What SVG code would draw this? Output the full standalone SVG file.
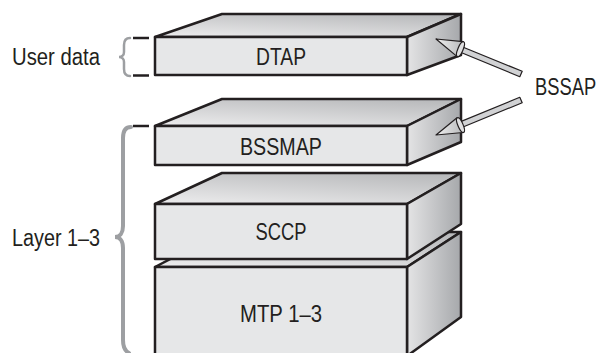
<svg xmlns="http://www.w3.org/2000/svg" width="603" height="353" viewBox="0 0 603 353">
<defs>
<linearGradient id="gTop" x1="0.2" y1="1" x2="0.8" y2="0">
<stop offset="0" stop-color="#e9e9ea"/>
<stop offset="1" stop-color="#b9babc"/>
</linearGradient>
<linearGradient id="gSide" x1="0" y1="0" x2="1" y2="0">
<stop offset="0" stop-color="#e4e4e5"/>
<stop offset="1" stop-color="#a6a8ab"/>
</linearGradient>
<linearGradient id="gCone" x1="0" y1="0" x2="1" y2="0">
<stop offset="0" stop-color="#f0f0f0"/>
<stop offset="1" stop-color="#b8b9bb"/>
</linearGradient>
</defs>
<style>
.edge{stroke:#231f20;stroke-width:2.5;stroke-linejoin:round}
.front{fill:#e6e7e8}
.top{fill:url(#gTop)}
.side{fill:url(#gSide)}
.lbl{font-family:"Liberation Sans",Arial,sans-serif;font-size:23.5px;fill:#231f20}
.mid{text-anchor:middle}
.brace{fill:none;stroke:#9d9fa2;stroke-linecap:round}
.dash{stroke:#231f20;stroke-width:2.5}
.shaft{fill:#d1d2d4;stroke:#231f20;stroke-width:1.2;stroke-linejoin:round}
.cone{fill:url(#gCone);stroke:#231f20;stroke-width:1.2;stroke-linejoin:round}
.ring{fill:#e0e0e1;stroke:#231f20;stroke-width:1.2}
</style>

<g id="mtp">
<polygon class="top edge" points="155,267 222,232 461,232 407,267"/>
<polygon class="side edge" points="407,267 461,232 461,317 407,356"/>
<rect class="front edge" x="155" y="267" width="252" height="92"/>
<text class="lbl mid" x="281" y="322" textLength="82" lengthAdjust="spacingAndGlyphs">MTP 1–3</text>
</g>

<g id="sccp">
<polygon class="top edge" points="155,204 222,173 461,173 407,204"/>
<polygon class="side edge" points="407,204 461,173 461,224 407,259"/>
<rect class="front edge" x="155" y="204" width="252" height="55"/>
<text class="lbl mid" x="281" y="240" textLength="51" lengthAdjust="spacingAndGlyphs">SCCP</text>
</g>

<g id="bssmap">
<polygon class="top edge" points="155,126 222,99 461,99 407,126"/>
<polygon class="side edge" points="407,126 461,99 461,142 407,165"/>
<rect class="front edge" x="155" y="126" width="252" height="39"/>
<text class="lbl mid" x="281" y="155" textLength="82" lengthAdjust="spacingAndGlyphs">BSSMAP</text>
</g>

<g id="dtap">
<polygon class="top edge" points="155,37 222,14 461,14 407,37"/>
<polygon class="side edge" points="407,37 461,14 461,55 407,75"/>
<rect class="front edge" x="155" y="37" width="252" height="38"/>
<text class="lbl mid" x="281" y="65" textLength="50" lengthAdjust="spacingAndGlyphs">DTAP</text>
</g>

<g id="user-data">
<text class="lbl" x="12" y="65" textLength="88" lengthAdjust="spacingAndGlyphs">User data</text>
<path class="brace" stroke-width="2.5" d="M130,38 C125,38 124,41 124,45 L124,52 C124,55 122,57 119,57 C122,57 124,59 124,62 L124,69 C124,73 125,76 130,76"/>
<line class="dash" x1="133" y1="38" x2="149" y2="38"/>
<line class="dash" x1="133" y1="75.5" x2="149" y2="75.5"/>
</g>

<g id="layer-1-3">
<text class="lbl" x="12" y="246" textLength="88" lengthAdjust="spacingAndGlyphs">Layer 1–3</text>
<path class="brace" stroke-width="4" d="M131,127 C125,127 123,131 123,138 L123,226 C123,233 120,237 115,237 C120,237 123,241 123,248 L123,340 C123,347 125,351 129,353"/>
<line class="dash" x1="133" y1="126" x2="149" y2="126"/>
</g>

<g id="bssap">
<text class="lbl" transform="translate(535 95) scale(0.78 1)" x="0" y="0">BSSAP</text>
</g>

<g id="connectors">
<polygon class="shaft" points="460.8,46.3 522.2,71.3 519.8,76.7 459.2,51.7"/>
<polygon class="cone" points="436,39 463.1,41.6 456.9,56.4"/>
<ellipse class="ring" cx="460.5" cy="49.2" rx="2.6" ry="8" transform="rotate(22.6 460.5 49.2)"/>
<polygon class="shaft" points="458.8,122.4 519.8,97.3 522.2,102.7 461.2,127.8"/>
<polygon class="cone" points="436,135 457.0,117.7 463.1,132.5"/>
<ellipse class="ring" cx="460.5" cy="125.1" rx="2.6" ry="8" transform="rotate(-22.4 460.5 125.1)"/>
</g>
</svg>
